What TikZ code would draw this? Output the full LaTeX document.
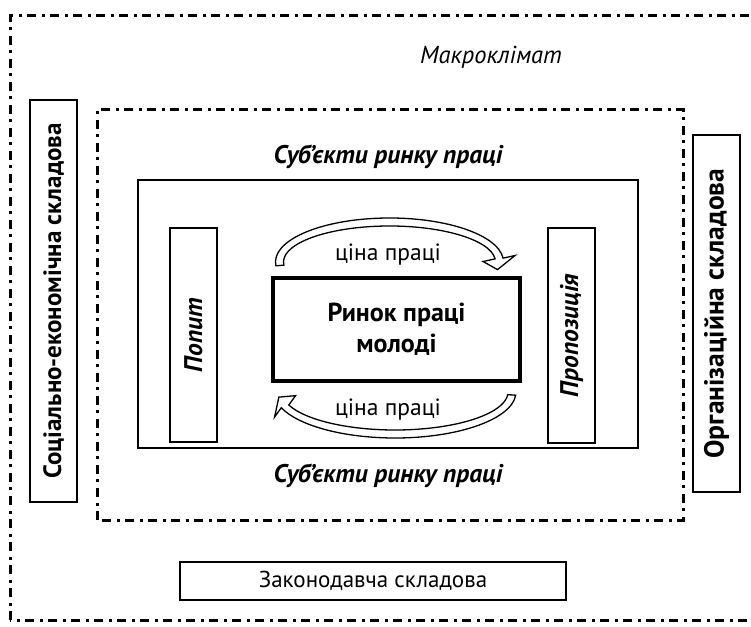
\documentclass[tikz,border=0pt]{standalone}
\usepackage{fontspec}
\setmainfont{PT Sans}
\usetikzlibrary{calc}

\tikzset{
  box/.style={draw, line width=2.1pt, inner sep=0pt, align=center},
  frame/.style={line width=3pt, dash pattern=on 9pt off 5.5pt on 3pt off 5.5pt},
  hollow/.style={draw, fill=white, line width=1.3pt},
  lbl/.style={font=\fontsize{23.5}{27}\selectfont},
  hdr/.style={font=\fontsize{25.5}{29}\selectfont\bfseries\itshape},
}

\begin{document}
\begin{tikzpicture}[x=1pt,y=1pt]
  \useasboundingbox (0,0) rectangle (751,626);
  \clip (0,0) rectangle (751,626);
  % frames
  \draw[frame] (10,6) rectangle (775,610);
  \draw[frame] (97,106) rectangle (683,516);
  \node[font=\fontsize{24.5}{28}\selectfont\itshape] (makro) at (491,569) {Макроклімат};

  % side boxes
  \node[box, rotate=90, minimum width=402pt, minimum height=47pt, font=\fontsize{25}{28}\selectfont\bfseries] (soc) at (53.5,325) {Соціально-економічна складова};
  \node[box, rotate=90, minimum width=357pt, minimum height=47pt, font=\fontsize{27.5}{31}\selectfont\bfseries] (org) at (716.5,312.5) {Організаційна складова};
  \node[box, minimum width=386pt, minimum height=38pt, font=\fontsize{23}{26}\selectfont] (zakon) at (373,45) {Законодавча складова};

  % subjects
  \node[box, minimum width=500pt, minimum height=268pt] (sub) at (388,312) {};
  \node[hdr] (subtop) at (388,469) {Суб’єкти ринку праці};
  \node[hdr] (subbot) at (388,150) {Суб’єкти ринку праці};

  \node[box, rotate=90, minimum width=214pt, minimum height=47pt, hdr] (popyt) at (193.5,291) {Попит};
  \node[box, rotate=90, minimum width=215pt, minimum height=47pt, hdr] (prop) at (571.5,290.5) {Пропозиція};
  \node[box, line width=4.5pt, minimum width=247pt, minimum height=103pt, font=\fontsize{26}{31}\selectfont\bfseries] (rynok) at (396.5,296.5) {Ринок праці\\молоді};

  % price arrows
  \coordinate (tc) at (389.5,364);
  \coordinate (bc) at (395,234);
  \draw[hollow] ($(tc)+(185:106 and 36)$) -- ($(tc)+(185:114 and 44)$)
    arc[start angle=185, end angle=5, x radius=114, y radius=44]
    -- ($(tc)+(5:110 and 40)+(16,3)$) -- ($(tc)+(-11:110 and 40)$)
    -- ($(tc)+(5:110 and 40)+(-16,-3)$) -- ($(tc)+(5:106 and 36)$)
    arc[start angle=5, end angle=185, x radius=106, y radius=36] -- cycle;
  \draw[hollow] ($(bc)+(-4:113 and 38)$) -- ($(bc)+(-4:121 and 46)$)
    arc[start angle=-4, end angle=-160, x radius=121, y radius=46]
    -- ($(bc)+(-160:117 and 42)+(-10.5,-10.7)$) -- ($(bc)+(-173:117 and 42)$)
    -- ($(bc)+(-160:117 and 42)+(10.5,10.7)$) -- ($(bc)+(-160:113 and 38)$)
    arc[start angle=-160, end angle=-4, x radius=113, y radius=38] -- cycle;
  \node[lbl] (cinatop) at (388,371) {ціна праці};
  \node[lbl] (cinabot) at (388,216) {ціна праці};
\end{tikzpicture}
\end{document}
